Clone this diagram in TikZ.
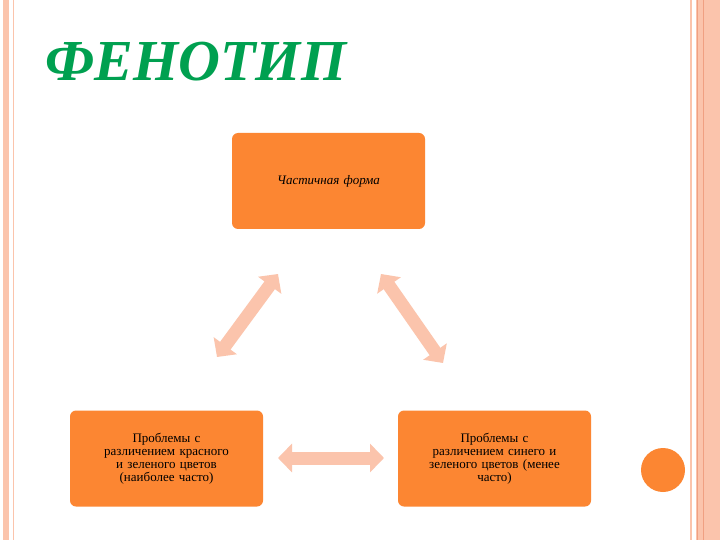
\documentclass[tikz,border=0pt]{standalone}
\usepackage{fontspec}
\setmainfont{Liberation Serif}
\usetikzlibrary{arrows.meta}
\definecolor{sal}{RGB}{251,196,172}
\definecolor{saldark}{RGB}{240,160,130}
\definecolor{orng}{RGB}{252,134,50}
\definecolor{ttl}{RGB}{0,160,80}
\tikzset{
 box/.style={fill=orng,rounded corners=6pt,minimum width=193pt,minimum height=96pt,align=center,inner sep=3pt,text width=180pt,font=\fontsize{13}{13}\selectfont},
 dbl/.style={sal,line width=13pt,{Triangle[width=28pt,length=14pt]}-{Triangle[width=28pt,length=14pt]},shorten <=0pt,shorten >=0pt}
}
\begin{document}
\begin{tikzpicture}[x=1pt,y=-1pt]
\useasboundingbox (0,0) rectangle (720,540);
\fill[white] (0,0) rectangle (720,540);
% borders
\fill[sal] (3,0) rectangle (9,540);
\draw[sal,line width=1pt] (13,0) -- (13,540);
\draw[sal,line width=1.5pt] (691,0) -- (691,540);
\fill[sal] (696,0) rectangle (720,540);
\draw[saldark,line width=1pt] (697.5,0) -- (697.5,540);
\draw[saldark,line width=1pt] (703,0) -- (703,540);
% title
\node[anchor=west,text=ttl,font=\fontsize{58}{58}\selectfont\bfseries\itshape] (title) at (42,62) {ФЕНОТИП};
% boxes
\node[box] (top) at (328.5,181) {\itshape Частичная форма};
\node[box] (bl) at (166.5,458.5) {Проблемы с\\различением красного\\и зеленого цветов\\(наиболее часто)};
\node[box] (br) at (494.5,458.5) {Проблемы с\\различением синего и\\зеленого цветов (менее\\часто)};
\node[circle,fill=orng,minimum size=44pt] (dot) at (663,470) {};
% arrows
\coordinate (a1) at (217,357);
\coordinate (a2) at (278,274);
\coordinate (b1) at (381,274);
\coordinate (b2) at (443,363);
\coordinate (c1) at (278,458);
\coordinate (c2) at (384,458);
\draw[dbl] (a1) -- (a2);
\draw[dbl] (b1) -- (b2);
\draw[dbl] (c1) -- (c2);
\end{tikzpicture}
\end{document}
